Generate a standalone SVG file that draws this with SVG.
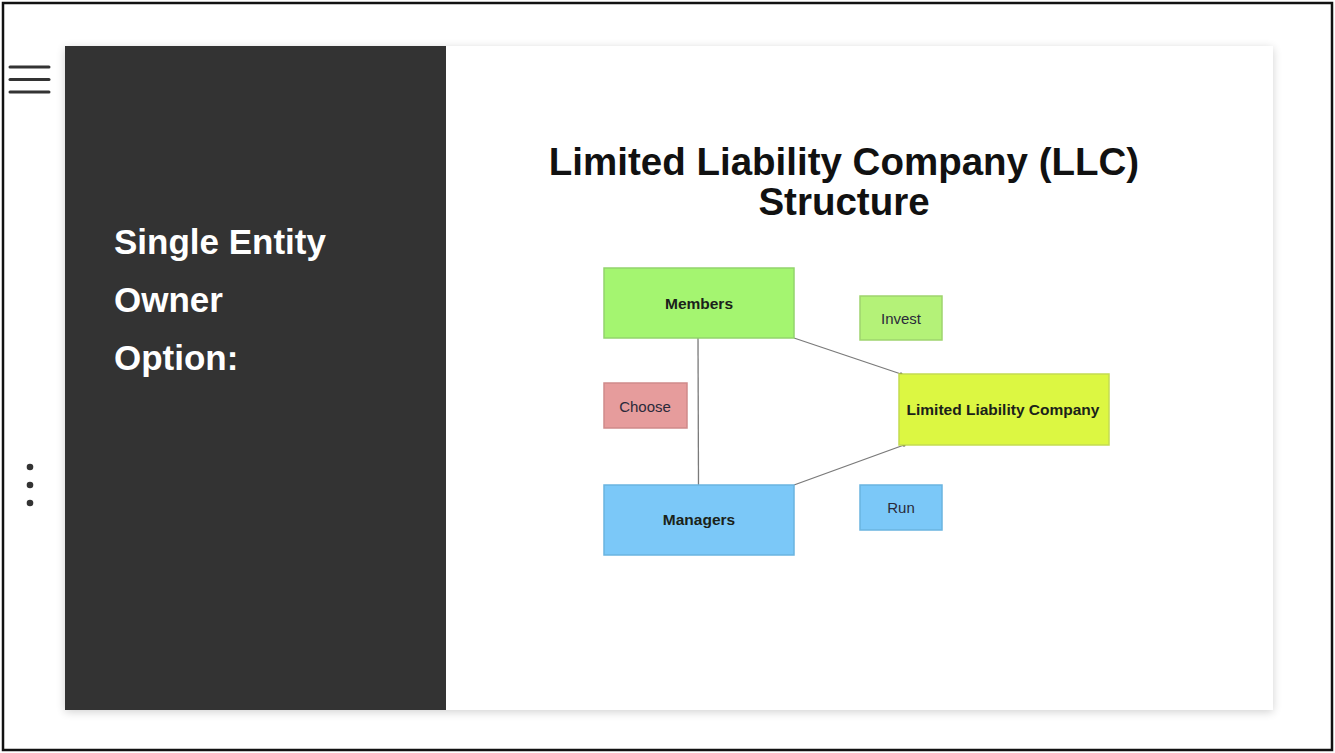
<svg xmlns="http://www.w3.org/2000/svg" width="1335" height="753" viewBox="0 0 1335 753">
<defs>
<filter id="sh" x="-5%" y="-5%" width="110%" height="110%"><feGaussianBlur stdDeviation="5"/></filter>
<marker id="dot" viewBox="0 0 4 4" refX="2" refY="2" markerWidth="4" markerHeight="4" markerUnits="userSpaceOnUse"><circle cx="2" cy="2" r="1.6" fill="#333"/></marker>
</defs>
<style>
.box{stroke-width:1.5}
.lb{font-family:"Liberation Sans",Arial,sans-serif;font-size:15.5px;font-weight:bold;fill:#1a221a;text-anchor:middle}
.lr{font-family:"Liberation Sans",Arial,sans-serif;font-size:15px;fill:#2a2a3a;text-anchor:middle}
.conn{stroke:#7a7a7a;stroke-width:1.3;fill:none}
.side{font-family:"Liberation Sans",Arial,sans-serif;font-size:35px;font-weight:bold;fill:#ffffff}
.title{font-family:"Liberation Sans",Arial,sans-serif;font-size:38.5px;font-weight:bold;fill:#111;text-anchor:middle}
</style>
<rect x="0" y="0" width="1335" height="753" fill="#ffffff"/>
<rect x="3" y="3" width="1329" height="747" fill="none" stroke="#111" stroke-width="2.5"/>
<g id="menu" stroke="#333" stroke-width="3" stroke-linecap="round">
<line x1="10" y1="67" x2="49" y2="67"/><line x1="10" y1="79.5" x2="49" y2="79.5"/><line x1="10" y1="92" x2="49" y2="92"/>
</g>
<g id="dots" fill="#333"><circle cx="30" cy="467" r="3.3"/><circle cx="30" cy="485" r="3.3"/><circle cx="30" cy="503" r="3.3"/></g>
<rect x="65" y="48" width="1208" height="664" fill="#000" opacity="0.18" filter="url(#sh)"/>
<rect x="65" y="46" width="1208" height="664" fill="#ffffff"/>
<rect id="panel" x="65" y="46" width="381" height="664" fill="#333333"/>
<g id="side-text">
<text class="side" x="114" y="254">Single Entity</text>
<text class="side" x="114" y="312">Owner</text>
<text class="side" x="114" y="370">Option:</text>
</g>
<g id="title">
<text class="title" x="844" y="175">Limited Liability Company (LLC)</text>
<text class="title" x="844" y="215">Structure</text>
</g>
<g id="connectors">
<line class="conn" x1="698" y1="338" x2="698.5" y2="485"/>
<line class="conn" x1="794" y1="338" x2="901" y2="374" marker-end="url(#dot)"/>
<line class="conn" x1="794" y1="485" x2="904" y2="445" marker-end="url(#dot)"/>
</g>
<g id="members"><rect class="box" x="604" y="268" width="190" height="70" fill="#a4f570" stroke="#93d46c"/><text class="lb" x="699" y="309">Members</text></g>
<g id="invest"><rect class="box" x="860" y="296" width="82" height="44" fill="#b4f278" stroke="#9ed46e"/><text class="lr" x="901" y="324">Invest</text></g>
<g id="choose"><rect class="box" x="604" y="383" width="83" height="45" fill="#e69c9c" stroke="#cf8a8a"/><text class="lr" x="645" y="412" fill="#4a2a2a">Choose</text></g>
<g id="llc"><rect class="box" x="899" y="374" width="210" height="71" fill="#dcf742" stroke="#c4dc50"/><text class="lb" x="1003" y="415">Limited Liability Company</text></g>
<g id="managers"><rect class="box" x="604" y="485" width="190" height="70" fill="#7bc8f8" stroke="#6ab4e0"/><text class="lb" x="699" y="525" fill="#1a2a3a">Managers</text></g>
<g id="run"><rect class="box" x="860" y="485" width="82" height="45" fill="#7bc8f8" stroke="#6ab4e0"/><text class="lr" x="901" y="513">Run</text></g>
</svg>
